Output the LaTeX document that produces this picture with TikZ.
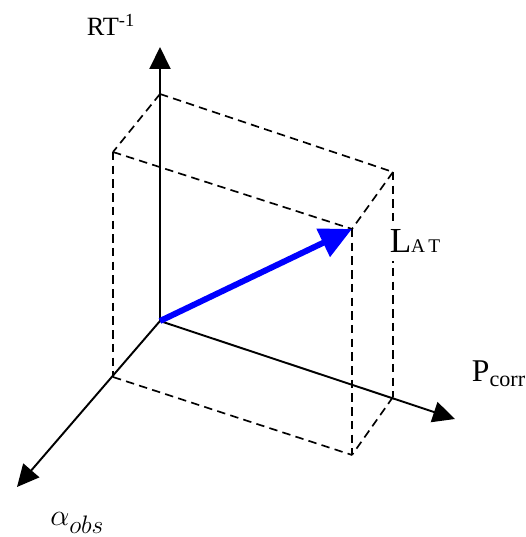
\documentclass[tikz,border=0pt]{standalone}
\usepackage{fontspec}
\setmainfont{Liberation Serif}
\usepackage{xcolor}
\usepackage{tikz}
\usetikzlibrary{arrows.meta, positioning, calc}
\definecolor{AzulVec}{RGB}{0,0,255}
\definecolor{Negro}  {RGB}{0,0,0}

\begin{document}
\begin{tikzpicture}[
      eje/.style ={-{Triangle[length=0.44cm,width=0.42cm]},Negro,line width=1.1pt},
      caja/.style={Negro,line width=0.95pt,dash pattern=on 4.8pt off 3pt},
      vec/.style ={-{Triangle[length=0.64cm,width=0.6cm]},AzulVec,line width=3.4pt},
      etq/.style ={inner sep=0pt,text=Negro}]
      \useasboundingbox (0,0) rectangle (10.5,10.74);
      % ejes
      \coordinate (orig)  at (3.2, 4.32);
      \coordinate (rtmax) at (3.2, 9.8);
      \coordinate (pmax)  at (9.1, 2.36);
      \coordinate (amax)  at (0.34,1.0);
      % esquinas de la caja
      \coordinate (bt)  at (3.2, 8.86);
      \coordinate (ftl) at (2.26,7.7);
      \coordinate (btr) at (7.86,7.3);
      \coordinate (ftr) at (7.04,6.16);
      \coordinate (fbl) at (2.26,3.2);
      \coordinate (fbr) at (7.04,1.64);
      \coordinate (bbr) at (7.86,2.8);
      \foreach \a/\b in {bt/ftl,bt/btr,ftl/ftr,btr/ftr,ftl/fbl,ftr/fbr,btr/bbr,fbl/fbr,bbr/fbr}
        \draw[caja] (\a)--(\b);
      \node[etq,fill=white,inner sep=5pt] (lat) at (8.3,5.92)
        {{\fontsize{20}{22}\selectfont L}{\fontsize{11}{13}\selectfont A\,T}};
      \foreach \b in {rtmax,pmax,amax}
        \draw[eje] (orig)--(\b);
      \draw[vec] (orig)--(ftr);
      \node[etq] (rt)  at (2.22,10.24)
        {\fontsize{15}{17}\selectfont RT\textsuperscript{-1}};
      \node[etq] (pc)  at (9.98,3.26)
        {\fontsize{18}{20}\selectfont P\textsubscript{corr}};
      \node[etq,anchor=west] (al) at (1.0,0.28)
        {\fontsize{19}{21}\selectfont$\alpha_{obs}$};
    \end{tikzpicture}
\end{document}
